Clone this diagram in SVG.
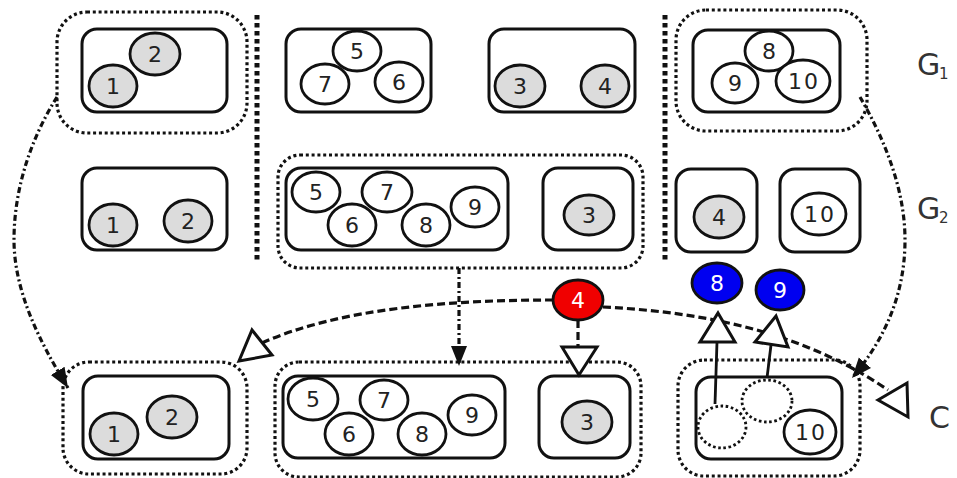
<svg xmlns="http://www.w3.org/2000/svg" width="957" height="478" viewBox="0 0 957 478">
  <style>
    .box { fill: #fff; stroke: #111; stroke-width: 3; }
    .grp { fill: none; stroke: #111; stroke-width: 3.2; stroke-dasharray: 3 2.8; }
    .sep { fill: none; stroke: #111; stroke-width: 5; stroke-dasharray: 4.5 3.5; }
    .v { fill: #fff; stroke: #111; stroke-width: 2.8; }
    .vs { fill: #dcdcdc; stroke: #111; stroke-width: 2.8; }
    .vr { fill: #f00000; stroke: #111; stroke-width: 2.8; }
    .vb { fill: #0000f0; stroke: #111; stroke-width: 2.8; }
    .vd { fill: #fff; stroke: #111; stroke-width: 2.8; stroke-dasharray: 2.6 2.6; }
    .n { font-family: "DejaVu Sans", sans-serif; font-size: 22px; fill: #222; text-anchor: middle; }
    .nw { font-family: "DejaVu Sans", sans-serif; font-size: 22px; fill: #fff; text-anchor: middle; }
    .ten { letter-spacing: 2px; }
    .lbl { font-family: "DejaVu Sans", sans-serif; font-size: 30px; fill: #333; }
    .sub { font-family: "DejaVu Sans", sans-serif; font-size: 15px; fill: #333; }
    .dash { fill: none; stroke: #111; stroke-width: 3.2; stroke-dasharray: 8 4; }
    .dashdot { fill: none; stroke: #111; stroke-width: 3.2; stroke-dasharray: 6 3 2 3; }
    .solid { fill: none; stroke: #111; stroke-width: 2.8; }
    .hollow { fill: #fff; stroke: #111; stroke-width: 3; stroke-linejoin: miter; }
  </style>
  <defs>
    <marker id="fill-arrow" markerUnits="userSpaceOnUse" markerWidth="22" markerHeight="18" refX="20" refY="8" orient="auto">
      <path d="M0,0 L20,8 L0,16 z" fill="#111"/>
    </marker>
  </defs>

  <rect width="957" height="478" fill="#fff"/>

  <!-- column separators -->
  <g id="separators">
    <line class="sep" x1="257" y1="15" x2="257" y2="260"/>
    <line class="sep" x1="665" y1="15" x2="665" y2="260"/>
  </g>

  <!-- row G1 -->
  <g id="g1-a">
    <rect class="grp" x="57" y="12" width="190" height="121" rx="30"/>
    <rect class="box" x="82" y="29" width="145" height="83" rx="15"/>
    <ellipse class="vs" cx="113" cy="86" rx="24" ry="21"/>
    <text class="n" x="113" y="94">1</text>
    <ellipse class="vs" cx="155" cy="54" rx="25" ry="21"/>
    <text class="n" x="155" y="62">2</text>
  </g>
  <g id="g1-b">
    <rect class="box" x="286" y="29" width="145" height="83" rx="15"/>
    <ellipse class="v" cx="357" cy="51" rx="24" ry="20"/>
    <text class="n" x="357" y="59">5</text>
    <ellipse class="v" cx="325" cy="84" rx="24" ry="20"/>
    <text class="n" x="325" y="92">7</text>
    <ellipse class="v" cx="399" cy="82" rx="24" ry="20"/>
    <text class="n" x="399" y="90">6</text>
  </g>
  <g id="g1-c">
    <rect class="box" x="489" y="29" width="146" height="83" rx="15"/>
    <ellipse class="vs" cx="520" cy="86" rx="25" ry="21"/>
    <text class="n" x="520" y="94">3</text>
    <ellipse class="vs" cx="605" cy="86" rx="24" ry="21"/>
    <text class="n" x="605" y="94">4</text>
  </g>
  <g id="g1-d">
    <rect class="grp" x="676" y="10" width="191" height="121" rx="30"/>
    <rect class="box" x="693" y="30" width="147" height="82" rx="15"/>
    <ellipse class="v" cx="769" cy="51" rx="24" ry="20"/>
    <text class="n" x="769" y="59">8</text>
    <ellipse class="v" cx="735" cy="83" rx="23" ry="20"/>
    <text class="n" x="735" y="91">9</text>
    <ellipse class="v" cx="803" cy="81" rx="27" ry="21"/>
    <text class="n ten" x="804" y="89">10</text>
  </g>

  <!-- row G2 -->
  <g id="g2-a">
    <rect class="box" x="82" y="168" width="145" height="82" rx="15"/>
    <ellipse class="vs" cx="113" cy="225" rx="24" ry="21"/>
    <text class="n" x="113" y="233">1</text>
    <ellipse class="vs" cx="188" cy="221" rx="24" ry="21"/>
    <text class="n" x="188" y="229">2</text>
  </g>
  <g id="g2-b">
    <rect class="grp" x="278" y="155" width="365" height="113" rx="22"/>
    <rect class="box" x="286" y="168" width="222" height="82" rx="15"/>
    <ellipse class="v" cx="316" cy="192" rx="24" ry="20"/>
    <text class="n" x="316" y="200">5</text>
    <ellipse class="v" cx="387" cy="192" rx="25" ry="20"/>
    <text class="n" x="387" y="200">7</text>
    <ellipse class="v" cx="352" cy="225" rx="24" ry="21"/>
    <text class="n" x="352" y="233">6</text>
    <ellipse class="v" cx="426" cy="225" rx="24" ry="21"/>
    <text class="n" x="426" y="233">8</text>
    <ellipse class="v" cx="475" cy="207" rx="24" ry="20"/>
    <text class="n" x="475" y="215">9</text>
    <rect class="box" x="543" y="168" width="90" height="82" rx="15"/>
    <ellipse class="vs" cx="589" cy="215" rx="25" ry="20"/>
    <text class="n" x="589" y="223">3</text>
  </g>
  <g id="g2-c">
    <rect class="box" x="676" y="169" width="81" height="83" rx="15"/>
    <ellipse class="vs" cx="719" cy="217" rx="25" ry="21"/>
    <text class="n" x="719" y="225">4</text>
  </g>
  <g id="g2-d">
    <rect class="box" x="780" y="169" width="80" height="83" rx="15"/>
    <ellipse class="v" cx="819" cy="214" rx="27" ry="21"/>
    <text class="n ten" x="820" y="222">10</text>
  </g>

  <!-- moved vertices -->
  <g id="v4-red">
    <ellipse class="vr" cx="578" cy="300" rx="25" ry="20"/>
    <text class="nw" x="578" y="308">4</text>
  </g>
  <g id="v8-blue">
    <ellipse class="vb" cx="717" cy="283" rx="25" ry="20"/>
    <text class="nw" x="717" y="291">8</text>
  </g>
  <g id="v9-blue">
    <ellipse class="vb" cx="780" cy="290" rx="24" ry="20"/>
    <text class="nw" x="780" y="298">9</text>
  </g>

  <!-- row C -->
  <g id="c-a">
    <rect class="grp" x="63" y="362" width="184" height="112" rx="26"/>
    <rect class="box" x="83" y="376" width="146" height="83" rx="15"/>
    <ellipse class="vs" cx="114" cy="434" rx="24" ry="21"/>
    <text class="n" x="114" y="442">1</text>
    <ellipse class="vs" cx="172" cy="417" rx="25" ry="21"/>
    <text class="n" x="172" y="425">2</text>
  </g>
  <g id="c-b">
    <rect class="grp" x="275" y="362" width="366" height="115" rx="24"/>
    <rect class="box" x="283" y="376" width="222" height="82" rx="15"/>
    <ellipse class="v" cx="313" cy="399" rx="25" ry="21"/>
    <text class="n" x="313" y="407">5</text>
    <ellipse class="v" cx="384" cy="400" rx="24" ry="20"/>
    <text class="n" x="384" y="408">7</text>
    <ellipse class="v" cx="349" cy="434" rx="24" ry="21"/>
    <text class="n" x="349" y="442">6</text>
    <ellipse class="v" cx="422" cy="434" rx="24" ry="21"/>
    <text class="n" x="422" y="442">8</text>
    <ellipse class="v" cx="472" cy="415" rx="24" ry="20"/>
    <text class="n" x="472" y="423">9</text>
    <rect class="box" x="539" y="376" width="91" height="82" rx="15"/>
    <ellipse class="vs" cx="587" cy="422" rx="25" ry="21"/>
    <text class="n" x="587" y="430">3</text>
  </g>
  <g id="c-c">
    <rect class="grp" x="678" y="360" width="182" height="116" rx="26"/>
    <rect class="box" x="696" y="377" width="146" height="82" rx="15"/>
    <ellipse class="vd" cx="722" cy="427" rx="24" ry="21"/>
    <ellipse class="vd" cx="767" cy="401" rx="25" ry="21"/>
    <ellipse class="v" cx="810" cy="432" rx="26" ry="22"/>
    <text class="n ten" x="811" y="440">10</text>
  </g>

  <!-- row labels -->
  <g id="labels">
    <text class="lbl" x="917" y="75">G</text>
    <text class="sub" x="939" y="79">1</text>
    <text class="lbl" x="917" y="219">G</text>
    <text class="sub" x="939" y="223">2</text>
    <text class="lbl" x="929" y="428">C</text>
  </g>

  <!-- connectors -->
  <g id="connectors">
    <path class="dashdot" d="M57,97 C30,140 14,190 14,240 C14,300 50,358 68,388" marker-end="url(#fill-arrow)"/>
    <path class="dashdot" d="M860,97 C885,140 905,190 905,240 C905,300 880,345 852,378" marker-end="url(#fill-arrow)"/>
    <path class="dashdot" d="M459,268 L459,366" marker-end="url(#fill-arrow)"/>

    <path class="dash" d="M553,300 C450,300 340,308 262,343"/>
    <polygon class="hollow" points="252,330 272,355 239,361"/>

    <path class="dash" d="M603,307 C700,312 800,330 888,390"/>
    <polygon class="hollow" points="878,400 907,383 908,417"/>

    <path class="dash" d="M578,320 L578,347"/>
    <polygon class="hollow" points="562,347 597,347 579,375"/>

    <path class="solid" d="M715,404 L717,342"/>
    <polygon class="hollow" points="718,313 735,342 700,342"/>
    <path class="solid" d="M767,378 L771,345"/>
    <polygon class="hollow" points="776,316 788,347 755,342"/>
  </g>
</svg>
